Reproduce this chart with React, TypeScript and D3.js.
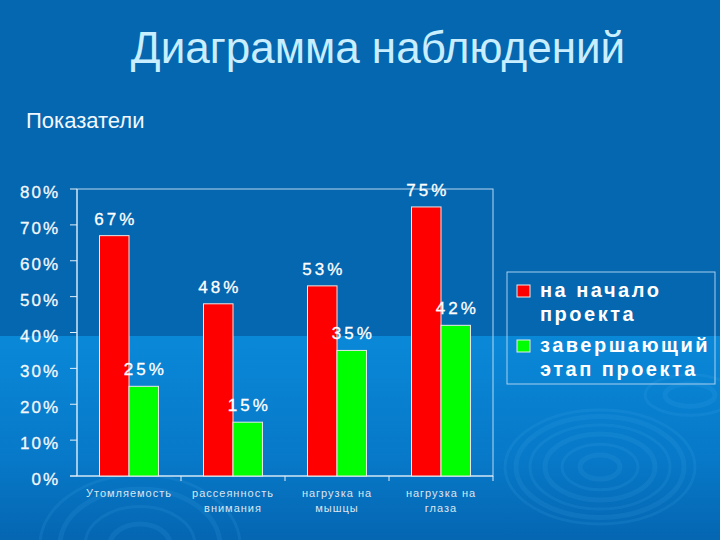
import React from "react";
import * as d3 from "d3";

const categories: string[][] = [
  ["Утомляемость"],
  ["рассеянность", "внимания"],
  ["нагрузка на", "мышцы"],
  ["нагрузка на", "глаза"],
];
const seriesNames = ["на начало проекта", "завершающий этап проекта"];
const legendLines: string[][] = [
  ["на начало", "проекта"],
  ["завершающий", "этап проекта"],
];
const startValues = [0.67, 0.48, 0.53, 0.75];
const finalValues = [0.25, 0.15, 0.35, 0.42];
const yTicks = [0, 0.1, 0.2, 0.3, 0.4, 0.5, 0.6, 0.7, 0.8];
const colors = ["#FF0000", "#00FF00"];

const W = 720;
const H = 540;
const plot = { left: 77, right: 493, top: 189, bottom: 476 };

export default function App() {
  const keys = categories.map((c) => c.join(" "));
  const x = d3.scaleBand<string>().domain(keys).range([plot.left, plot.right]).padding(0);
  const groupW = 59;
  const x1 = d3.scaleBand<string>().domain(seriesNames).range([0, groupW]).padding(0);
  const y = d3.scaleLinear().domain([0, 0.8]).range([plot.bottom, plot.top]);
  const fmt = d3.format(".0%");
  const series = [startValues, finalValues];
  const font = "'Liberation Sans', Arial, sans-serif";

  const rings = [
    { cx: 600, cy: 467, rx: [20, 38, 55, 70, 84, 95], ry: 0.6 },
    { cx: 140, cy: 545, rx: [30, 55, 80, 100], ry: 0.7 },
    { cx: 690, cy: 395, rx: [25, 45], ry: 0.45 },
  ];

  return (
    <svg
      width={W}
      height={H}
      style={{ position: "absolute", left: 0, top: 0, display: "block" }}
      fontFamily={font}
    >
      <defs>
        <linearGradient id="lower" x1="0" y1="0" x2="0" y2="1">
          <stop offset="0%" stopColor="#0A88D8" />
          <stop offset="60%" stopColor="#0779C8" />
          <stop offset="100%" stopColor="#0566B2" />
        </linearGradient>
      </defs>
      <rect x={0} y={0} width={W} height={336} fill="#0567B0" />
      <rect x={0} y={336} width={W} height={H - 336} fill="url(#lower)" />
      {rings.map((r, i) => (
        <g key={i}>
          {r.rx.map((rx, j) => (
            <ellipse
              key={j}
              cx={r.cx}
              cy={r.cy}
              rx={rx}
              ry={rx * r.ry}
              fill="none"
              stroke="#4FB0F0"
              strokeOpacity={0.13}
              strokeWidth={j % 2 === 0 ? 5 : 3}
            />
          ))}
        </g>
      ))}

      <text x={378} y={63} textAnchor="middle" fontSize={44} fill="#C8EEFF">
        Диаграмма наблюдений
      </text>
      <text x={26} y={128} fontSize={22} fill="#F2F8FF">
        Показатели
      </text>

      {/* plot frame */}
      <rect
        x={plot.left}
        y={plot.top}
        width={plot.right - plot.left}
        height={plot.bottom - plot.top}
        fill="none"
        stroke="#B8D8F0"
        strokeWidth={1}
      />
      {/* y axis */}
      <line x1={plot.left} x2={plot.left} y1={plot.top} y2={plot.bottom} stroke="#E0EEF8" />
      {yTicks.map((t) => (
        <g key={t}>
          <line x1={70} x2={plot.left} y1={y(t)} y2={y(t)} stroke="#E0EEF8" />
          <text
            x={60}
            y={y(t) + 9}
            textAnchor="end"
            fontSize={17}
            letterSpacing={2}
            fill="#F4F8FC"
            stroke="#F4F8FC"
            strokeWidth={0.3}
          >
            {fmt(t)}
          </text>
        </g>
      ))}
      {/* x axis */}
      <line x1={70} x2={plot.right} y1={plot.bottom} y2={plot.bottom} stroke="#E0EEF8" />
      {keys.map((k) => (
        <line
          key={k}
          x1={(x(k) as number) + x.bandwidth()}
          x2={(x(k) as number) + x.bandwidth()}
          y1={plot.bottom}
          y2={plot.bottom + 5}
          stroke="#E0EEF8"
        />
      ))}

      {/* bars */}
      {series.map((vals, si) =>
        vals.map((v, ci) => {
          const bx = (x(keys[ci]) as number) + (x.bandwidth() - groupW) / 2 + (x1(seriesNames[si]) as number);
          return (
            <rect
              key={`${si}-${ci}`}
              x={bx}
              y={y(v)}
              width={x1.bandwidth()}
              height={plot.bottom - y(v)}
              fill={colors[si]}
              stroke="#E8E8E8"
              strokeWidth={1}
            />
          );
        })
      )}
      {/* value labels */}
      {series.map((vals, si) =>
        vals.map((v, ci) => {
          const cx =
            (x(keys[ci]) as number) +
            (x.bandwidth() - groupW) / 2 +
            (x1(seriesNames[si]) as number) +
            x1.bandwidth() / 2;
          return (
            <text
              key={`l${si}-${ci}`}
              x={cx + 1.5}
              y={y(v) - 11}
              textAnchor="middle"
              fontSize={17}
              letterSpacing={3}
              fill="#FFFFFF"
              stroke="#FFFFFF"
              strokeWidth={0.3}
            >
              {fmt(v)}
            </text>
          );
        })
      )}

      {/* category labels */}
      {categories.map((lines, ci) => (
        <text
          key={ci}
          x={(x(keys[ci]) as number) + x.bandwidth() / 2}
          textAnchor="middle"
          fontSize={11}
          letterSpacing={1}
          fill="#DCE6F0"
        >
          {lines.map((ln, li) => (
            <tspan key={li} x={(x(keys[ci]) as number) + x.bandwidth() / 2} y={497 + li * 15}>
              {ln}
            </tspan>
          ))}
        </text>
      ))}

      {/* legend */}
      <rect x={507} y={272} width={208} height={112} fill="none" stroke="#A8D0F0" strokeWidth={1} />
      {legendLines.map((lines, si) => (
        <g key={si}>
          <rect
            x={517}
            y={285 + si * 55}
            width={13}
            height={12}
            fill={colors[si]}
            stroke="#E8E8E8"
            strokeWidth={1}
          />
          {lines.map((ln, li) => (
            <text
              key={li}
              x={540}
              y={297 + si * 55 + li * 24}
              fontSize={20}
              fontWeight="bold"
              letterSpacing={2.5}
              fill="#FFFFFF"
            >
              {ln}
            </text>
          ))}
        </g>
      ))}
    </svg>
  );
}
